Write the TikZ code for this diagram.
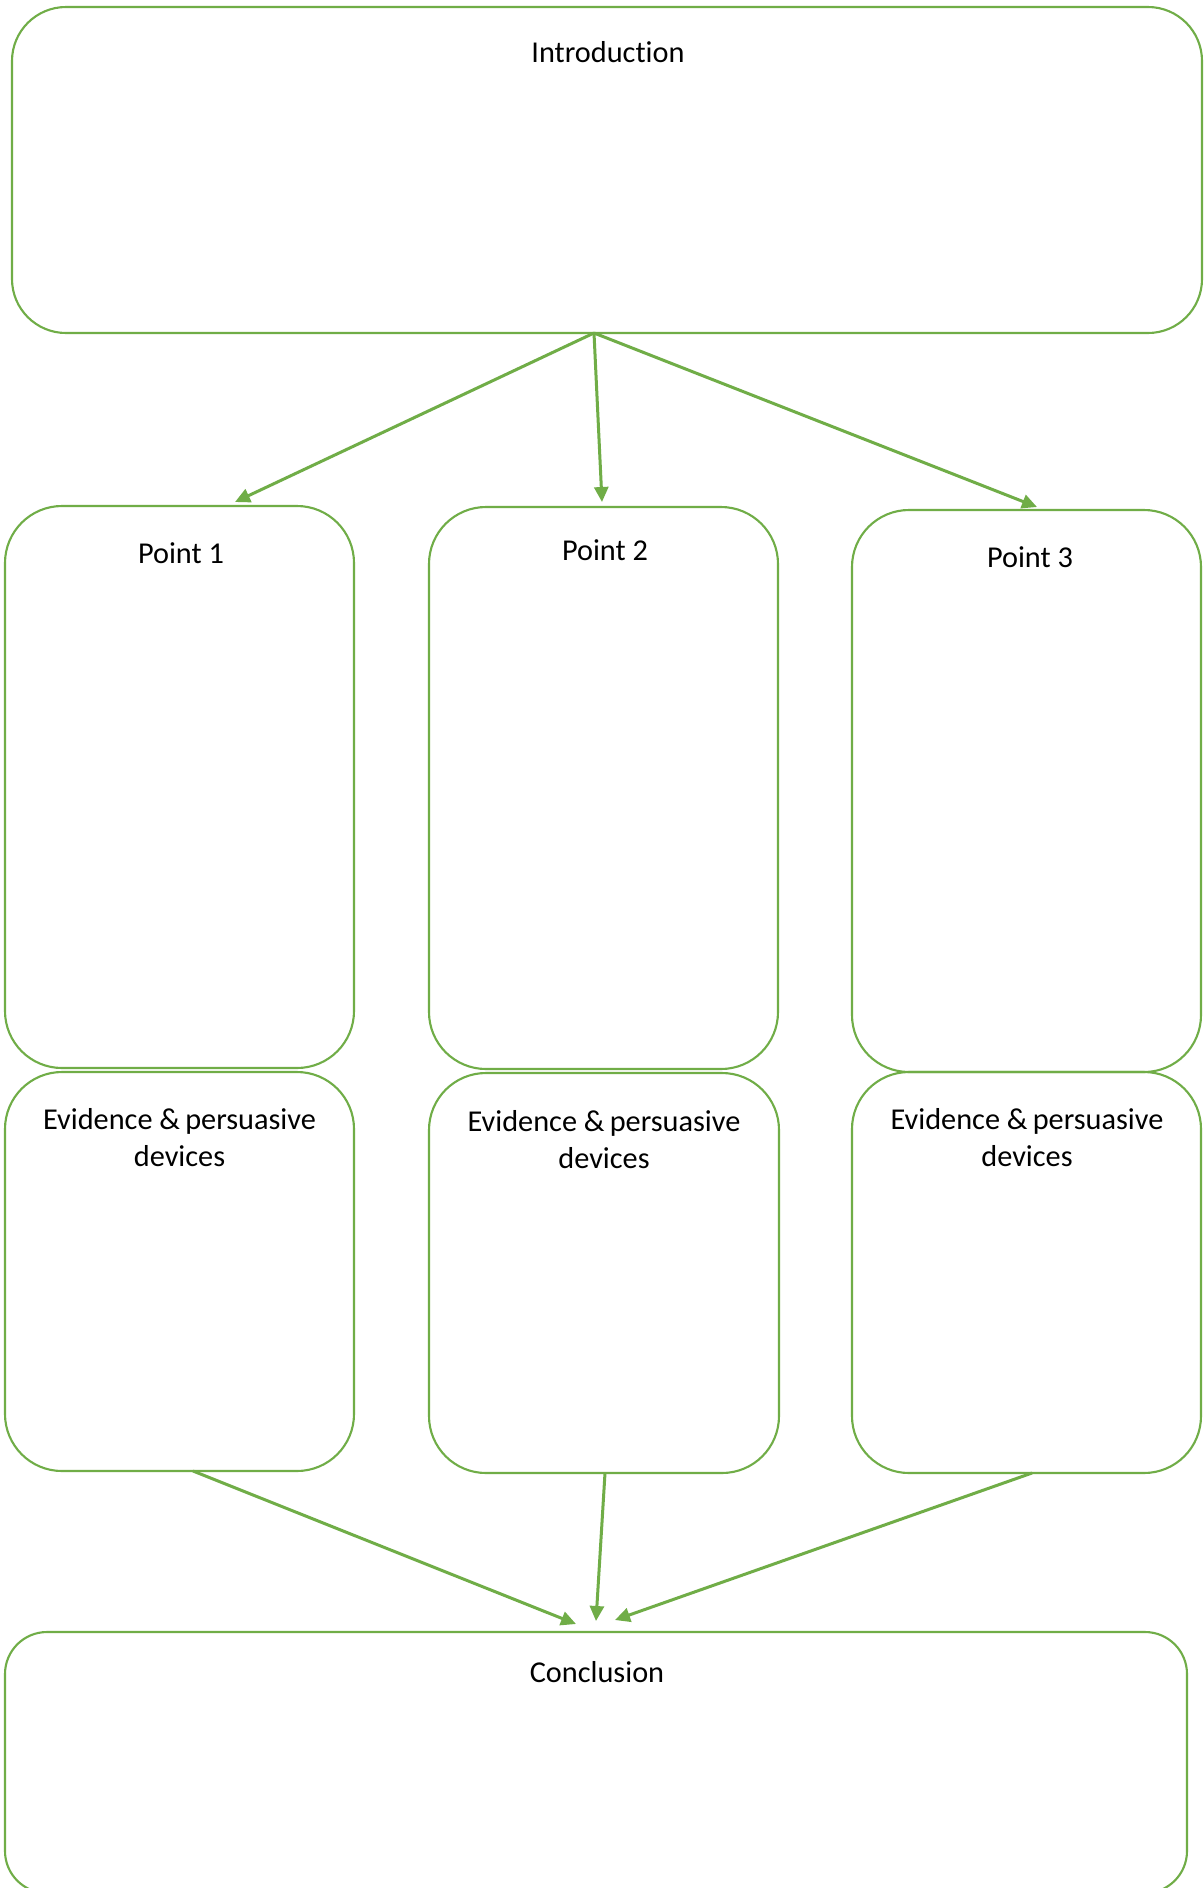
\documentclass[tikz,border=0pt]{standalone}
\usepackage{fontspec}
\setmainfont{Carlito}[Ligatures=NoCommon]
\usetikzlibrary{arrows.meta}
\definecolor{ogreen}{HTML}{70AD47}
\newcommand{\twoline}[2]{\vtop{\halign{\hfil##\hfil\cr #1\cr #2\cr}}}
\begin{document}
\begin{tikzpicture}[x=1pt,y=-1pt,
  box/.style={draw=ogreen, line width=2.1pt, rectangle, inner sep=0pt, outer sep=0pt, anchor=north west},
  lbl/.style={anchor=base, inner sep=0pt, font=\fontsize{30.3}{37}\selectfont, text=black},
  conn/.style={draw=ogreen, line width=3pt, -{Triangle[length=15pt,width=14pt]}}]
\useasboundingbox (0,0) rectangle (1203,1888);
\fill[white] (0,0) rectangle (1203,1888);
% boxes
\node[box, rounded corners=54pt, minimum width=1190pt, minimum height=326pt] (intro) at (12,7) {};
\node[box, rounded corners=57pt, minimum width=349pt, minimum height=562pt] (p1) at (5,506) {};
\node[box, rounded corners=57pt, minimum width=349pt, minimum height=562pt] (p2) at (429,507) {};
\node[box, rounded corners=57pt, minimum width=349pt, minimum height=562pt] (p3) at (852,510) {};
\node[box, rounded corners=57pt, minimum width=349pt, minimum height=399pt] (e1) at (5,1072) {};
\node[box, rounded corners=57pt, minimum width=350pt, minimum height=400pt] (e2) at (429,1073) {};
\node[box, rounded corners=57pt, minimum width=349pt, minimum height=401pt] (e3) at (852,1072) {};
\node[box, rounded corners=42pt, minimum width=1182pt, minimum height=261pt] (conc) at (5,1632) {};
% labels
\node[lbl] (introT) at (608,62) {Introduction};
\node[lbl] (p1T) at (181,563) {Point 1};
\node[lbl] (p2T) at (605,560) {Point 2};
\node[lbl] (p3T) at (1030,567) {Point 3};
\node[lbl] (e1T) at (179.5,1129) {\twoline{Evidence \&\hskip0.17em persuasive}{devices}};
\node[lbl] (e2T) at (604,1131) {\twoline{Evidence \&\hskip0.17em persuasive}{devices}};
\node[lbl] (e3T) at (1027,1129) {\twoline{Evidence \&\hskip0.17em persuasive}{devices}};
\node[lbl] (concT) at (597,1682) {Conclusion};
% connector ends
\coordinate (iS) at (594,333);
\coordinate (p1N) at (235,502);
\coordinate (p2N) at (602,502);
\coordinate (p3N) at (1037,507);
\coordinate (e1S) at (193,1471);
\coordinate (e2S) at (605,1473);
\coordinate (e3S) at (1032,1473);
\coordinate (c1) at (576,1624);
\coordinate (c2) at (596,1621);
\coordinate (c3) at (615,1620);
% connectors
\draw[conn] (iS) -- (p1N);
\draw[conn] (iS) -- (p2N);
\draw[conn] (iS) -- (p3N);
\draw[conn] (e1S) -- (c1);
\draw[conn] (e2S) -- (c2);
\draw[conn] (e3S) -- (c3);
\end{tikzpicture}
\end{document}
